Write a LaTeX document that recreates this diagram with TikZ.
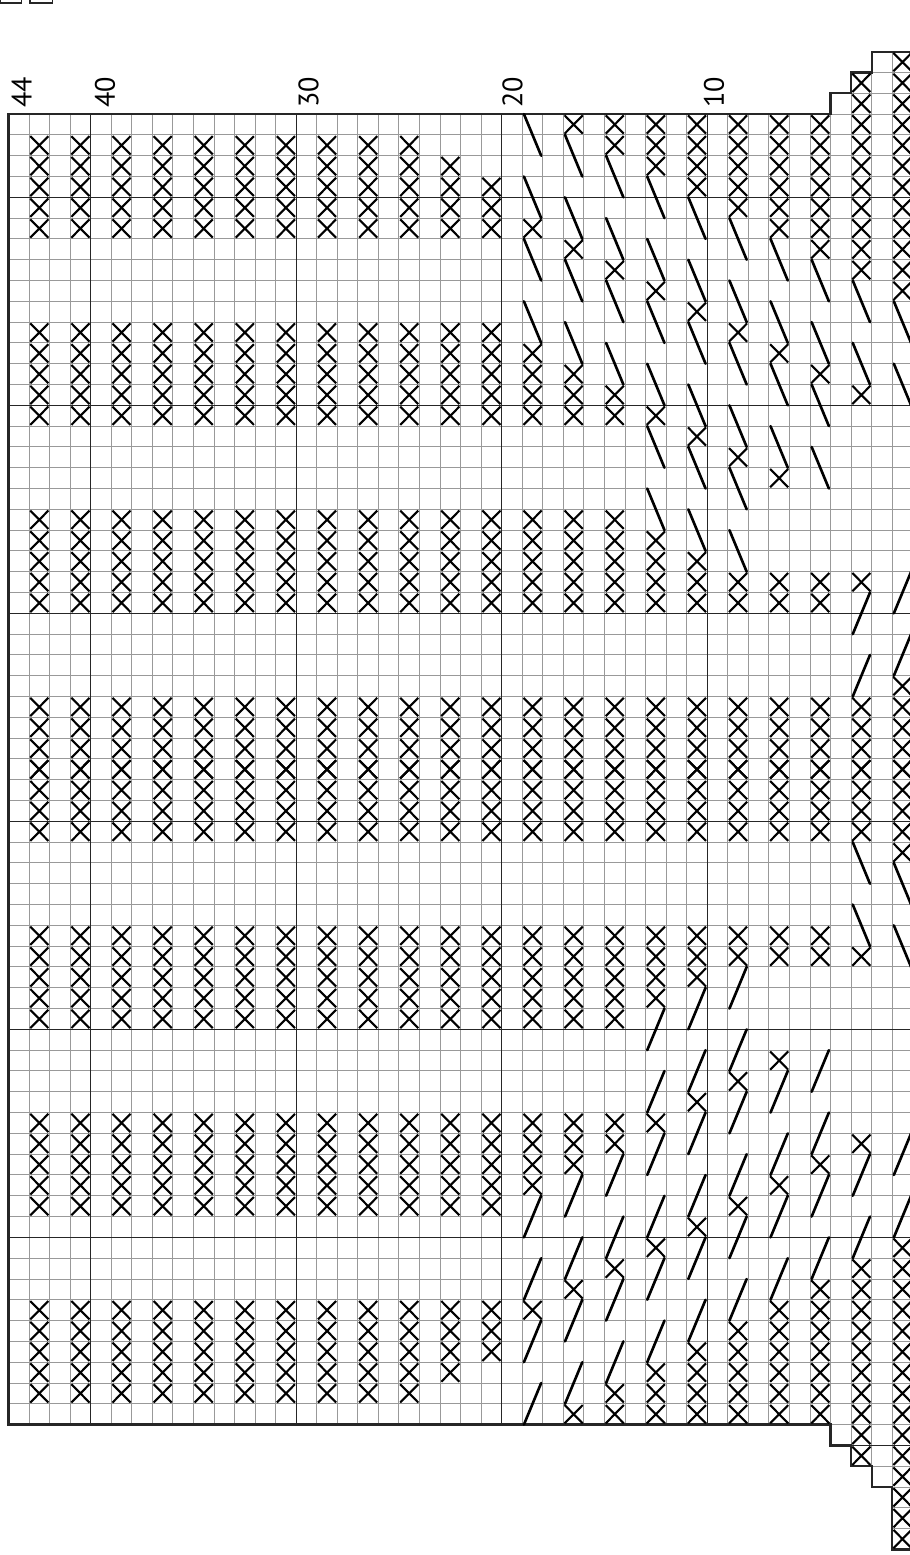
\documentclass[tikz,border=0pt]{standalone}
\usepackage{fontspec}
\setmainfont{PT Sans}

\tikzset{
  gthin/.style={black!40, line width=0.55pt, xstep=0.411cm, ystep=0.416cm},
  gthick/.style={black!85, line width=0.8pt},
  border/.style={black!85, line width=1.3pt, line join=miter},
  stx/.style={black, line width=1.2pt},
  stl/.style={black, line width=1.5pt, line cap=round},
  lbl/.style={rotate=90, font=\fontsize{16}{16}\selectfont, inner sep=0pt}
}
% X in one cell: #1 = left, #2 = top
\newcommand{\xcell}[2]{\draw[stx] ({#1+.06},{#2+.06}) -- ({#1+.94},{#2+.94})
  ({#1+.06},{#2+.94}) -- ({#1+.94},{#2+.06});}

\begin{document}
\begin{tikzpicture}[x=0.411cm, y=-0.416cm]
  \useasboundingbox[fill=white] (-0.4136,-5.486) rectangle (43.82,69.27);

  % grid
  \draw[gthin] (0,0) grid (44,63);
  \draw[gthin] (40,-1) grid (44,0);
  \draw[gthin] (41,-2) grid (44,-1);
  \draw[gthin] (42,-3) grid (44,-2);
  \draw[gthin] (40,63) grid (44,64);
  \draw[gthin] (41,64) grid (44,65);
  \draw[gthin] (42,65) grid (44,66);
  \draw[gthin] (43,66) grid (44,69);
  \foreach \x in {4,14,24,34} \draw[gthick] (\x,0) -- (\x,63);
  \foreach \y in {4,14,24,34,44,54} \draw[gthick] (0,\y) -- (44,\y);
  \draw[gthick] (41,64) -- (44,64);
  \draw[border] (44,-3) -- (42,-3) -- (42,-2) -- (41,-2) -- (41,-1) -- (40,-1) -- (40,0)
    -- (0,0) -- (0,63) -- (40,63) -- (40,64) -- (41,64) -- (41,65) -- (42,65)
    -- (42,66) -- (43,66) -- (43,69) -- (44,69);

  % rows 21-43
  \foreach \r/\xs in {21/{4,5,6},23/{3,4,5,6},25/{2,3,4,5,6},27/{2,3,4,5,6},
      29/{2,3,4,5,6},31/{2,3,4,5,6},33/{2,3,4,5,6},35/{2,3,4,5,6},
      37/{2,3,4,5,6},39/{2,3,4,5,6},41/{2,3,4,5,6},43/{2,3,4,5,6}}{
    \pgfmathsetmacro\cx{44-\r}
    \foreach \st in \xs {\xcell{\cx}{\st-1} \xcell{\cx}{63-\st}}
    \foreach \st in {11,12,13,14,15,20,21,22,23,24,29,30,31,32}
      {\xcell{\cx}{\st-1} \xcell{\cx}{63-\st}}
  }

  % rows 1-19
  \foreach \r/\xs/\ds in {
      19/{6,12,13,14,15,20,21,22,23,24,29,30,31,32}/{1,4,7,10},
      17/{1,7,13,14,15,20,21,22,23,24,29,30,31,32}/{2,5,8,11},
      15/{1,2,8,14,15,20,21,22,23,24,29,30,31,32}/{3,6,9,12},
      13/{1,2,3,9,15,21,22,23,24,29,30,31,32}/{4,7,10,13,16,19},
      11/{1,2,3,4,10,16,22,23,24,29,30,31,32}/{5,8,11,14,17,20},
      9/{1,2,3,4,5,11,17,23,24,29,30,31,32}/{6,9,12,15,18,21},
      7/{1,2,3,4,5,6,12,18,23,24,29,30,31,32}/{7,10,13,16},
      5/{1,2,3,4,5,6,7,13,23,24,29,30,31,32}/{8,11,14,17},
      3/{-1,0,1,2,3,4,5,6,7,8,14,23,29,30,31,32}/{9,12},
      1/{-2,-1,0,1,2,3,4,5,6,7,8,9,28,29,30,31,32}/{10,13}}{
    \pgfmathsetmacro\cx{44-\r}
    \foreach \st in \xs {\xcell{\cx}{\st-1} \xcell{\cx}{63-(\st)}}
    \foreach \k in \ds {
      \draw[stl] (\cx+.08,\k-1) -- (\cx+.92,\k+1);
      \draw[stl] (\cx+.08,64-\k) -- (\cx+.92,62-\k);
    }
  }
  \foreach \r/\k in {3/24,3/27,1/23,1/26}{
    \pgfmathsetmacro\cx{44-\r}
    \draw[stl] (\cx+.08,\k+1) -- (\cx+.92,\k-1);
    \draw[stl] (\cx+.08,62-\k) -- (\cx+.92,64-\k);
  }
  \foreach \st in {66,67,68} {\xcell{43}{\st}}

  % row numbers
  \node[lbl] (n44) at (0.64,-1.06) {44};
  \node[lbl] (n40) at (4.70,-1.06) {40};
  \node[lbl] (n30) at (14.6,-1.06) {30};
  \node[lbl] (n20) at (24.53,-1.06) {20};
  \node[lbl] (n10) at (34.33,-1.06) {10};

  % cut-off boxes at the top
  \draw[border, line width=0.9pt] (-0.414,-5.6) -- (-0.414,-5.355) -- (0.64,-5.355) -- (0.64,-5.6);
  \draw[border, line width=0.9pt] (1.05,-5.6) -- (1.05,-5.355) -- (2.15,-5.355) -- (2.15,-5.6);
\end{tikzpicture}
\end{document}
